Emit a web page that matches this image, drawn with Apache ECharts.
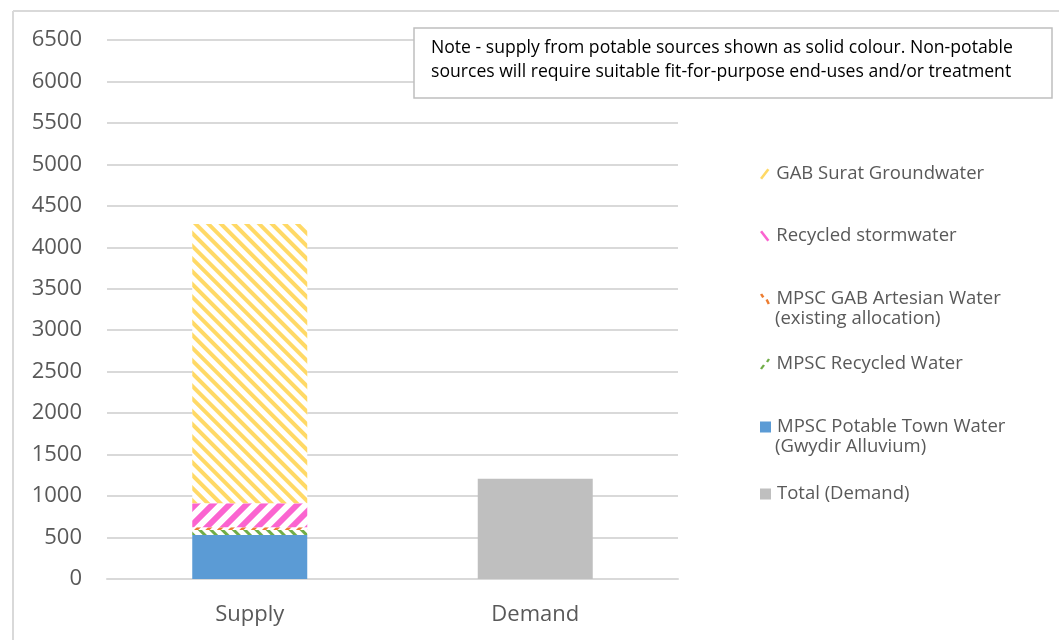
<!DOCTYPE html>
<html>
<head>
<meta charset="utf-8">
<script src="https://cdn.jsdelivr.net/npm/echarts@6/dist/echarts.min.js"></script>
<style>
  html, body { margin: 0; padding: 0; background: #fff; }
  #chart { width: 1059px; height: 640px; }
</style>
</head>
<body>
<div id="chart"></div>
<script>
// data (ML/yr)
const categories = ['Supply', 'Demand'];
const potableTown = [530, '-'];
const recycledWater = [60, '-'];
const gabArtesian = [35, '-'];
const stormwater = [290, '-'];
const suratGroundwater = [3365, '-'];
const demandTotal = ['-', 1210];

const yMin = 0;
const yMax = 6500;
const yStep = 500;

const noteLines = [
  'Note - supply from potable sources shown as solid colour. Non-potable',
  'sources will require suitable fit-for-purpose end-uses and/or treatment'
];

const FONT = '"Open Sans", Lato, sans-serif';
const TEXT = '#595959';

const stripe = (color, w, gap, dir) => ({
  color: '#fff',
  decal: {
    symbol: 'rect',
    symbolSize: 1,
    color: color,
    dashArrayX: [1, 0],
    dashArrayY: [w, gap],
    rotation: dir * Math.PI / 4
  }
});

const series = [
  { name: 'MPSC Potable Town Water (Gwydir Alluvium)', data: potableTown, itemStyle: { color: '#5b9bd5' } },
  { name: 'MPSC Recycled Water', data: recycledWater, itemStyle: stripe('#70ad47', 3, 5, 1) },
  { name: 'MPSC GAB Artesian Water (existing allocation)', data: gabArtesian, itemStyle: stripe('#ed7d31', 3, 5, -1) },
  { name: 'Recycled stormwater', data: stormwater, itemStyle: stripe('#fb64d0', 5.5, 5.5, -1) },
  { name: 'GAB Surat Groundwater', data: suratGroundwater, itemStyle: stripe('#ffd966', 3.5, 5, 1) },
  { name: 'Total (Demand)', data: demandTotal, itemStyle: { color: '#bfbfbf' } }
].map(s => Object.assign({ type: 'bar', stack: 'total', barWidth: 115 }, s));

// legend entries: [series name, centre y, icon, colour, second line]
const slashUp = 'path://M0,10 L7,1 L9,2.5 L2,11.5 Z';
const slashDown = 'path://M0,2.5 L2,1 L9,10 L7,11.5 Z';
const legendItems = [
  ['GAB Surat Groundwater', 169, slashUp, '#ffd966', null],
  ['Recycled stormwater', 231, slashDown, '#fb64d0', null],
  ['MPSC GAB Artesian Water (existing allocation)', 294, 'path://M0,1 L2,0 L4,3 L2,4 Z M5,6 L7,5 L9,9 L7,10 Z', '#ed7d31', '(existing allocation)'],
  ['MPSC Recycled Water', 359, 'path://M0,10 L3,6 L5,7 L2,11 Z M6,3 L8,0 L10,1 L8,4 Z', '#70ad47', null],
  ['MPSC Potable Town Water (Gwydir Alluvium)', 422, 'rect', '#5b9bd5', '(Gwydir Alluvium)'],
  ['Total (Demand)', 489, 'rect', '#bfbfbf', null]
];

const legends = legendItems.map(([name, cy, icon, color, line2]) => ({
  left: 755,
  top: cy - 12,
  itemWidth: 11,
  itemHeight: 11,
  itemGap: 0,
  selectedMode: false,
  data: [{ name: name, icon: icon, itemStyle: { color: color, decal: 'none' } }],
  formatter: n => line2 ? n.replace(' ' + line2, '') : n,
  textStyle: { fontFamily: FONT, fontSize: 18.5, lineHeight: 24, color: TEXT, padding: [0, 0, 0, 1] }
}));

const graphics = [
  { type: 'line', shape: { x1: 13, y1: 11, x2: 1059, y2: 11 }, style: { stroke: '#d9d9d9', lineWidth: 2 } },
  { type: 'line', shape: { x1: 13, y1: 11, x2: 13, y2: 640 }, style: { stroke: '#d9d9d9', lineWidth: 2 } },
  {
    type: 'rect', shape: { x: 414, y: 28, width: 638, height: 70 },
    style: { fill: '#fff', stroke: '#bfbfbf', lineWidth: 1.5 }, z: 10
  },
  {
    type: 'text', x: 431, y: 60, z: 11,
    style: { text: noteLines.join('\n'), font: '17.6px ' + FONT, fill: '#000', lineHeight: 24, verticalAlign: 'middle' }
  }
];
legendItems.forEach(([name, cy, icon, color, line2]) => {
  if (line2) {
    graphics.push({
      type: 'text', x: 775, y: cy + 25,
      style: { text: line2, font: '18.5px ' + FONT, fill: TEXT, verticalAlign: 'middle' }
    });
  }
});

const chart = echarts.init(document.getElementById('chart'));
chart.setOption({
  animation: false,
  backgroundColor: '#fff',
  grid: { left: 107, right: 381, top: 40, bottom: 61 },
  legend: legends,
  xAxis: {
    type: 'category',
    data: categories,
    axisTick: { show: false },
    axisLine: { lineStyle: { color: '#d9d9d9', width: 2 } },
    axisLabel: { color: TEXT, fontFamily: FONT, fontSize: 22, margin: 25 }
  },
  yAxis: {
    type: 'value',
    min: yMin,
    max: yMax,
    interval: yStep,
    axisLine: { show: false },
    axisTick: { show: false },
    splitLine: { lineStyle: { color: '#d9d9d9', width: 2 } },
    axisLabel: { color: TEXT, fontFamily: FONT, fontSize: 22, margin: 25, formatter: v => String(v) }
  },
  series: series,
  graphic: graphics
});
</script>
</body>
</html>
